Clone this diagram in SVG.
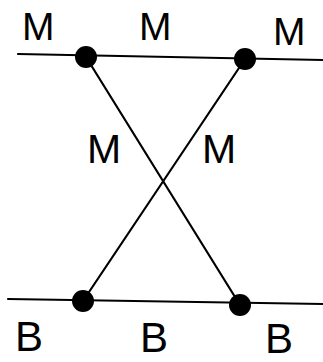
<svg xmlns="http://www.w3.org/2000/svg" width="323" height="362" viewBox="0 0 323 362">
<style>
.ln{stroke:#000;stroke-width:2.2;fill:none;stroke-linecap:round}
.dot{fill:#000}
.lb{font-family:"Liberation Sans",Arial,sans-serif;fill:#000}
.m{font-size:39px}
.mm{font-size:41px}
.b{font-size:42px}
</style>
<rect width="323" height="362" fill="#fff"/>
<g id="connectors">
<line class="ln" x1="18" y1="54" x2="323" y2="60"/>
<line class="ln" x1="8" y1="299" x2="323" y2="304"/>
<line class="ln" x1="86" y1="57" x2="240" y2="305"/>
<line class="ln" x1="245" y1="59" x2="83" y2="301"/>
</g>
<g id="node-top-left"><circle class="dot" cx="86" cy="57" r="11"/></g>
<g id="node-top-right"><circle class="dot" cx="245" cy="59" r="11"/></g>
<g id="node-bottom-left"><circle class="dot" cx="83" cy="301" r="11"/></g>
<g id="node-bottom-right"><circle class="dot" cx="240" cy="305" r="11"/></g>
<g id="labels">
<text class="lb m" x="22" y="40">M</text>
<text class="lb m" x="139" y="40">M</text>
<text class="lb m" x="273" y="45">M</text>
<text class="lb mm" x="87" y="163">M</text>
<text class="lb mm" x="202" y="163">M</text>
<text class="lb b" x="15" y="351">B</text>
<text class="lb b" x="140" y="352">B</text>
<text class="lb b" x="265" y="353">B</text>
</g>
</svg>
